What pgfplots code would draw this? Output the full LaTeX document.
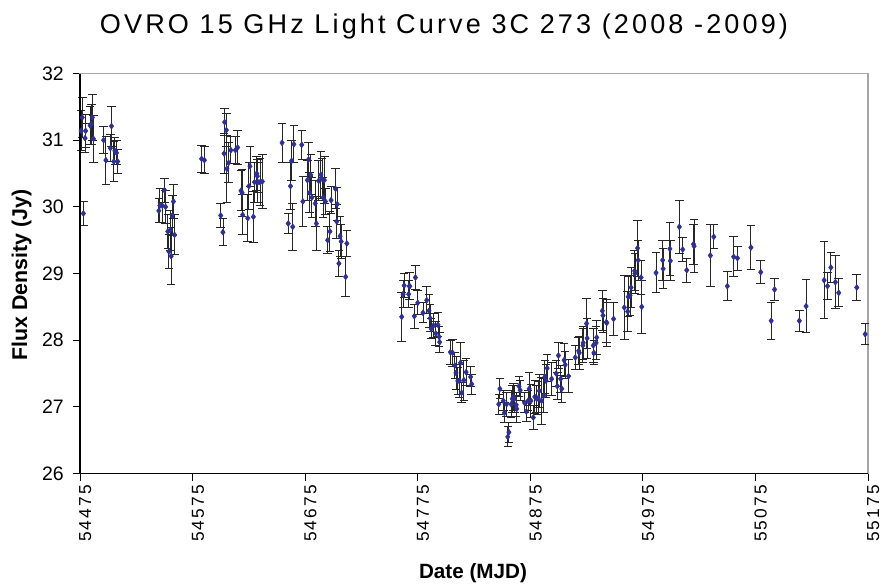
\documentclass[border=0pt]{standalone}
\usepackage{fontspec}
\setmainfont{Liberation Sans}
\newfontfamily\titlefont[LetterSpace=11.5]{Liberation Sans}
\newfontfamily\xtickfont[LetterSpace=12]{Liberation Sans}
\usepackage{xcolor}
\usepackage{pgfplots}
\pgfplotsset{compat=1.18}
\definecolor{PointBlue}{HTML}{2E3192}
\definecolor{FrameGray}{HTML}{A6A6A6}

% MJD, flux density (Jy), error (Jy)
\pgfplotstableread{
x y e
54476 31.14 0.30
54477 31.34 0.30
54478 29.90 0.18
54479.5 31.03 0.22
54480 31.14 0.25
54484 31.22 0.28
54485 31.24 0.30
54486 31.34 0.35
54487 31.02 0.35
54496 31.00 0.20
54498 30.70 0.36
54502 30.88 0.20
54503 31.21 0.30
54505 30.68 0.30
54506 30.84 0.20
54507.5 30.81 0.18
54508.5 30.68 0.18
54545 29.94 0.18
54546 30.02 0.25
54548 30.02 0.25
54550 30.25 0.18
54551 30.00 0.25
54553 29.63 0.25
54554 29.33 0.25
54555 29.65 0.30
54556 29.26 0.43
54557 29.87 0.30
54558 30.08 0.25
54559 29.58 0.30
54583 30.72 0.20
54585.5 30.70 0.20
54600 29.87 0.18
54602 29.62 0.20
54603 30.80 0.30
54603.5 31.27 0.20
54605 31.15 0.25
54605.5 30.57 0.50
54607 30.66 0.30
54609 30.85 0.20
54613 30.85 0.20
54615 30.89 0.25
54618 30.24 0.30
54619 30.21 0.35
54619.5 29.88 0.30
54624 29.83 0.35
54625 30.31 0.35
54626 30.61 0.30
54629 29.85 0.38
54630 30.37 0.30
54632 30.50 0.25
54632.5 30.46 0.25
54633 30.37 0.30
54635 30.37 0.35
54637 30.38 0.40
54654.5 30.96 0.29
54660 29.75 0.15
54662 30.31 0.35
54663 30.69 0.30
54664 29.70 0.35
54665 30.94 0.28
54672 30.93 0.22
54673 30.08 0.37
54677 30.40 0.30
54678 30.71 0.25
54679 30.21 0.30
54680 30.48 0.30
54681 30.14 0.30
54684 30.05 0.35
54685 29.75 0.40
54687 30.39 0.30
54689 30.48 0.35
54690 30.42 0.30
54691 30.14 0.30
54692 30.40 0.35
54693 30.08 0.20
54695 29.50 0.20
54697 29.63 0.30
54698 30.10 0.20
54702 30.27 0.30
54703 29.78 0.25
54703.5 30.04 0.25
54705 29.15 0.20
54706 29.56 0.30
54707 29.48 0.25
54711 28.95 0.30
54712 29.45 0.20
54760.8 28.35 0.37
54762 28.69 0.20
54763 28.82 0.18
54767 28.69 0.20
54767.5 28.81 0.20
54768 28.81 0.20
54772 28.36 0.18
54773 28.94 0.18
54775 28.56 0.18
54779.7 28.41 0.15
54783 28.60 0.20
54785 28.44 0.25
54786 28.33 0.20
54787 28.17 0.15
54789 28.22 0.18
54791 28.10 0.18
54793 28.23 0.18
54794 28.05 0.15
54794.5 27.97 0.15
54804 27.82 0.18
54806 27.81 0.20
54808 27.62 0.20
54809 27.51 0.25
54810.6 27.39 0.20
54812 27.39 0.25
54813 27.66 0.30
54814 27.21 0.15
54816 27.40 0.30
54818 27.52 0.20
54822 27.45 0.15
54823 27.34 0.15
54847 27.04 0.15
54848 27.27 0.15
54851 27.09 0.15
54852 26.91 0.15
54854 27.04 0.18
54855 26.55 0.15
54856 26.62 0.15
54858 27.04 0.20
54859 27.12 0.20
54860 27.15 0.20
54861 27.12 0.20
54862.5 27.03 0.18
54863 26.97 0.20
54865 27.31 0.15
54866 27.25 0.15
54870 27.06 0.15
54871.5 26.93 0.15
54873 27.09 0.15
54874 27.27 0.25
54875.6 27.09 0.25
54877.7 26.84 0.18
54879 27.15 0.25
54880.7 27.12 0.20
54882 27.13 0.25
54883 27.24 0.25
54885 27.09 0.35
54887 27.17 0.25
54888 27.45 0.25
54889 27.39 0.25
54890 27.58 0.20
54894 27.42 0.25
54898 27.50 0.20
54899 27.31 0.20
54900 27.77 0.20
54902 27.42 0.20
54903 27.27 0.20
54905 27.70 0.25
54906 27.63 0.20
54909 27.46 0.25
54915 27.74 0.18
54918 27.84 0.20
54918.5 27.81 0.25
54921.7 27.92 0.25
54922 27.96 0.25
54925 28.25 0.37
54925.5 28.03 0.30
54931 27.92 0.25
54931.5 27.81 0.18
54933.5 27.96 0.25
54934 28.04 0.25
54939 28.44 0.30
54939.6 28.37 0.25
54942.5 28.27 0.30
54943 28.26 0.35
54949 28.32 0.25
54958.5 28.49 0.48
54961.5 28.43 0.30
54962 28.65 0.30
54963.6 28.67 0.30
54964.5 28.79 0.30
54967.7 29.04 0.30
54968 29.00 0.30
54970.3 29.38 0.42
54970.8 29.20 0.30
54973.4 28.94 0.25
54974 28.50 0.40
54986.7 29.01 0.30
54992.6 29.20 0.30
54993 29.07 0.30
54999 29.37 0.40
54999.4 29.19 0.30
55007.4 29.70 0.40
55010.4 29.36 0.18
55014 29.05 0.18
55020 29.44 0.30
55020.5 29.41 0.40
55035 29.27 0.46
55038 29.55 0.18
55050 28.81 0.22
55055.7 29.25 0.30
55059 29.23 0.18
55071 29.39 0.33
55079.7 29.02 0.17
55089 28.29 0.28
55092 28.76 0.17
55114 28.29 0.16
55120 28.51 0.40
55136 28.90 0.58
55139 28.81 0.20
55142 29.09 0.22
55146 28.87 0.40
55149 28.71 0.21
55165 28.79 0.20
55172.5 28.09 0.16
}\fluxdata

\begin{document}
\begin{tikzpicture}
\useasboundingbox (0,0) rectangle (660.75pt,440.25pt);
\node[anchor=base, font=\titlefont\fontsize{20.3pt}{24pt}\selectfont] at (333pt,414.75pt)
  {OVRO 15 GHz Light Curve 3C 273 (2008 -2009)};
\node[rotate=90, font=\bfseries\fontsize{16pt}{19pt}\selectfont] at (16.3pt,234pt) {Flux Density (Jy)};
\node[font=\bfseries\fontsize{15.5pt}{18pt}\selectfont] at (354.75pt,10.5pt) {Date (MJD)};
\begin{axis}[
  at={(60pt,85.125pt)}, anchor=south west,
  scale only axis, width=591pt, height=300pt,
  xmin=54475, xmax=55175, ymin=26, ymax=32,
  scaled x ticks=false, scaled y ticks=false,
  xtick={54475,54575,54675,54775,54875,54975,55075,55175},
  xticklabels={54475,54575,54675,54775,54875,54975,55075,55175},
  ytick={26,27,28,29,30,31,32},
  yticklabels={26,27,28,29,30,31,32},
  xtick pos=bottom, ytick pos=left,
  tick align=outside, major tick length=5.25pt,
  tick style={black, line width=0.75pt},
  axis line style={FrameGray, line width=0.9pt},
  xticklabel style={font=\xtickfont\fontsize{13pt}{15pt}\selectfont, rotate=90, anchor=east, yshift=-4pt},
  yticklabel style={font=\fontsize{14.6pt}{17pt}\selectfont, xshift=-3.4pt},
  clip=false,
]
\addplot[only marks, mark=diamond*, mark size=2.2pt, color=PointBlue,
  error bars/.cd, y dir=both, y explicit,
  error bar style={black!85, line width=0.7pt},
  error mark options={black!85, line width=0.7pt, rotate=90, mark size=3.2pt}]
  table[x=x, y=y, y error=e] {\fluxdata};
\draw[black, line width=1.1pt] (rel axis cs:0,1) -- (rel axis cs:0,0) -- (rel axis cs:1,0);
\end{axis}
\end{tikzpicture}
\end{document}
